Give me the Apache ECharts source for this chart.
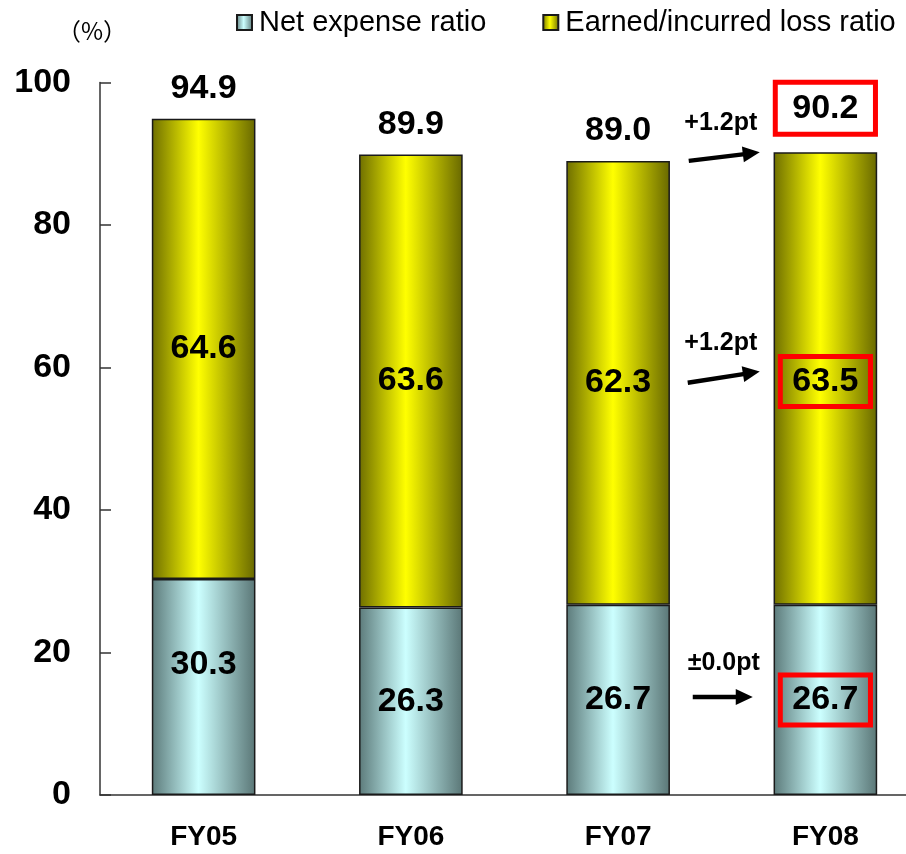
<!DOCTYPE html>
<html>
<head>
<meta charset="utf-8">
<script src="https://cdn.jsdelivr.net/npm/echarts@6/dist/echarts.min.js"></script>
<style>
  html, body { margin: 0; padding: 0; background: #ffffff; }
  #chart { width: 906px; height: 854px; }
</style>
</head>
<body>
<div id="chart"></div>
<script>
// Fiscal years and ratio components (%)
const categories = ['FY05', 'FY06', 'FY07', 'FY08'];
const netExpense = [30.3, 26.3, 26.7, 26.7];
const lossRatio = [64.6, 63.6, 62.3, 63.5];
const combined = [94.9, 89.9, 89.0, 90.2];
const yTicks = [0, 20, 40, 60, 80, 100];
// Year-on-year changes FY07 -> FY08: combined, loss, expense
const changeLabels = ['+1.2pt', '+1.2pt', '\u00b10.0pt'];

const FONT = "'Liberation Sans', Arial, Helvetica, sans-serif";
const last = categories.length - 1;
const redBox = { borderColor: '#ff0000', borderWidth: 5 };

function barGradient(left, mid, right) {
  return new echarts.graphic.LinearGradient(0, 0, 1, 0, [
    { offset: 0, color: left },
    { offset: 0.45, color: mid },
    { offset: 1, color: right }
  ]);
}

const valueLabel = {
  show: true,
  fontFamily: FONT,
  fontWeight: 'bold',
  fontSize: 34,
  lineHeight: 34,
  color: '#000',
  formatter: function (p) { return Number(p.value).toFixed(1); }
};

const chart = echarts.init(document.getElementById('chart'), null, { renderer: 'canvas' });

chart.setOption({
  animation: false,
  backgroundColor: '#ffffff',
  title: {
    text: '（%）',
    left: 52,
    top: 14,
    textStyle: { fontFamily: "'Noto Sans CJK JP', sans-serif", fontWeight: 'normal', fontSize: 24, color: '#000' }
  },
  legend: {
    data: ['Net expense ratio', 'Earned/incurred loss ratio'],
    left: 231,
    top: 3,
    width: 700,
    icon: 'rect',
    itemWidth: 15,
    itemHeight: 15,
    itemGap: 56,
    textStyle: { fontFamily: FONT, fontSize: 29, color: '#000', padding: [0, 0, 0, 2] }
  },
  grid: {
    left: 100,
    right: -23,
    top: 82.5,
    bottom: 59,
    containLabel: false,
    outerBoundsMode: 'none'
  },
  xAxis: {
    type: 'category',
    data: categories,
    axisLine: { lineStyle: { color: '#333', width: 1.5 } },
    axisTick: { inside: true, length: 9, lineStyle: { color: '#333', width: 1.5 } },
    axisLabel: { fontFamily: FONT, fontWeight: 'bold', fontSize: 28, color: '#000', margin: 28 }
  },
  yAxis: {
    type: 'value',
    min: yTicks[0],
    max: yTicks[yTicks.length - 1],
    interval: yTicks[1] - yTicks[0],
    splitLine: { show: false },
    axisLine: { show: true, lineStyle: { color: '#333', width: 1.5 } },
    axisTick: { show: true, inside: true, length: 11, lineStyle: { color: '#333', width: 1.5 } },
    axisLabel: { fontFamily: FONT, fontWeight: 'bold', fontSize: 34, color: '#000', margin: 29 }
  },
  series: [
    {
      name: 'Net expense ratio',
      type: 'bar',
      stack: 'ratio',
      barWidth: '50%',
      itemStyle: {
        color: barGradient('#5c7a7a', '#ccffff', '#5a7676'),
        borderColor: '#1a1a1a',
        borderWidth: 1.5
      },
      label: Object.assign({ position: 'inside' }, valueLabel),
      data: netExpense.map((v, i) => {
        if (i === 0) return { value: v, label: { offset: [0, -22] } };
        if (i === last) return { value: v, label: Object.assign({ padding: [8, 12] }, redBox) };
        return v;
      })
    },
    {
      name: 'Earned/incurred loss ratio',
      type: 'bar',
      stack: 'ratio',
      barWidth: '50%',
      itemStyle: {
        color: barGradient('#6e6e00', '#ffff00', '#686800'),
        borderColor: '#1a1a1a',
        borderWidth: 1.5
      },
      label: Object.assign({ position: 'inside' }, valueLabel),
      data: lossRatio.map((v, i) => {
        if (i === last) return { value: v, label: Object.assign({ padding: [8, 12], offset: [0, 3] }, redBox) };
        return v;
      })
    },
    {
      name: 'Combined ratio',
      type: 'line',
      data: combined.map((v, i) => {
        if (i === last) return { value: v, label: Object.assign({ padding: [9, 17], distance: 18 }, redBox) };
        return v;
      }),
      symbol: 'circle',
      symbolSize: 0,
      showSymbol: true,
      silent: true,
      z: 5,
      lineStyle: { opacity: 0 },
      label: Object.assign({ position: 'top', distance: 13 }, valueLabel)
    }
  ]
});

// Change annotations between the last two years, positioned from the data
function px(i, v) {
  return chart.convertToPixel({ gridIndex: 0 }, [i, v]);
}

function arrow(x1, y1, x2, y2) {
  const dx = x2 - x1, dy = y2 - y1;
  const len = Math.hypot(dx, dy);
  const ux = dx / len, uy = dy / len;
  const head = 17, hw = 8;
  const bx = x2 - ux * head, by = y2 - uy * head;
  return [
    { type: 'line', silent: true, shape: { x1: x1, y1: y1, x2: bx + ux * 2, y2: by + uy * 2 },
      style: { stroke: '#000', lineWidth: 4.5 } },
    { type: 'polygon', silent: true,
      shape: { points: [[x2, y2], [bx - uy * hw, by + ux * hw], [bx + uy * hw, by - ux * hw]] },
      style: { fill: '#000' } }
  ];
}

function note(text, x, y) {
  return {
    type: 'text', silent: true, x: x, y: y,
    style: { text: text, fill: '#000', font: 'bold 25px ' + FONT, align: 'center', verticalAlign: 'middle' }
  };
}

const prev = last - 1;
const midX = (px(prev, 0)[0] + px(last, 0)[0]) / 2;

const yPrevTotal = px(prev, combined[prev])[1];
const yLastTotal = px(last, combined[last])[1];
const yPrevLoss = px(prev, netExpense[prev] + lossRatio[prev] / 2)[1];
const yLastLoss = px(last, netExpense[last] + lossRatio[last] / 2)[1];
const yPrevExp = px(prev, netExpense[prev] / 2)[1];

const elements = [].concat(
  arrow(midX - 33, yPrevTotal, midX + 38, yLastTotal),
  [note(changeLabels[0], midX - 1, yPrevTotal - 38)],
  arrow(midX - 34, yPrevLoss, midX + 38, yLastLoss - 7),
  [note(changeLabels[1], midX - 1, yPrevLoss - 40)],
  arrow(midX - 29, yPrevExp - 3, midX + 31, yPrevExp - 3),
  [note(changeLabels[2], midX + 2, yPrevExp - 37)]
);

chart.setOption({ graphic: { elements: elements } });
</script>
</body>
</html>
